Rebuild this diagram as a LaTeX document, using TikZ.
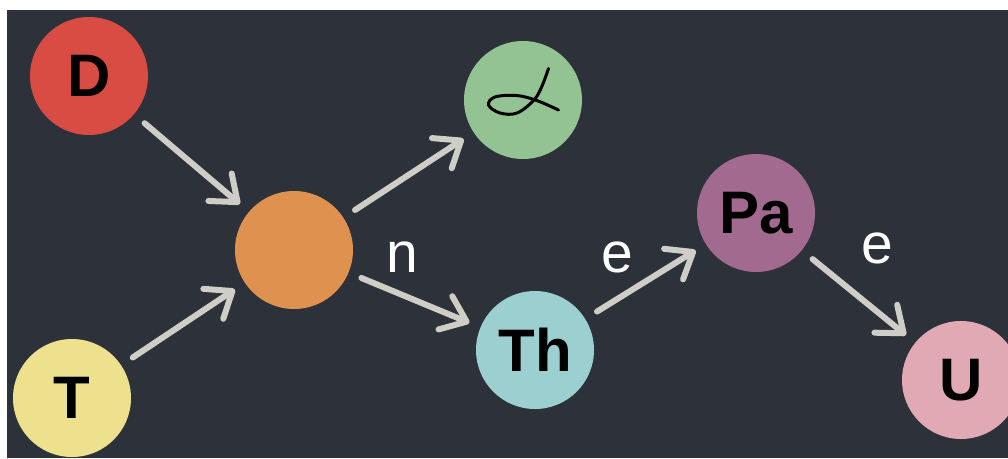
\documentclass[tikz,border=0pt]{standalone}
\usepackage{fontspec}
\setmainfont{Liberation Sans}
\usetikzlibrary{arrows.meta}
\definecolor{bgdark}{HTML}{2D3139}
\definecolor{arrowgray}{HTML}{CFCEC6}
\definecolor{cD}{HTML}{D94C43}
\definecolor{cG}{HTML}{93C393}
\definecolor{cO}{HTML}{DF9150}
\definecolor{cT}{HTML}{EDE18E}
\definecolor{cTh}{HTML}{9CCFD0}
\definecolor{cPa}{HTML}{A36A8F}
\definecolor{cU}{HTML}{E0A9B4}
\tikzset{
  ball/.style={circle, minimum size=118pt, inner sep=0pt, outer sep=0pt, draw=none,
    font=\fontsize{60}{60}\selectfont\bfseries, text=black},
  conn/.style={draw=arrowgray, line width=6pt, line cap=round,
    -{Straight Barb[length=23pt,width=36pt,round]},
    shorten <=14pt, shorten >=12pt},
  lbl/.style={text=white, font=\fontsize{57}{57}\selectfont, anchor=base, inner sep=0pt}
}
\begin{document}
\begin{tikzpicture}[x=1pt,y=-1pt]
\useasboundingbox (0,0) rectangle (1008,458);
\fill[white] (0,0) rectangle (1008,458);
\fill[bgdark] (7,10) rectangle (1008,458);
\node[ball, fill=cD] (D) at (89,76) {D};
\node[ball, fill=cG] (G) at (523,100) {};
\node[ball, fill=cO] (O) at (294,250) {};
\node[ball, fill=cT] (T) at (72,398) {T};
\node[ball, fill=cTh] (Th) at (535,350) {Th};
\node[ball, fill=cPa] (Pa) at (756,213) {Pa};
\node[ball, fill=cU] (U) at (961,380) {U};
% loop glyph in the green node
\draw[black, line width=3pt, line cap=round, line join=round]
  plot[smooth, tension=0.6] coordinates {(548.5,68.5) (542,86) (534,100) (517,113) (500,113) (488.5,105) (495,97) (516.7,95.5) (536.7,100.5) (558.5,110)};
\draw[conn] (D) -- (O);
\draw[conn] (T) -- (O);
\draw[conn] (O) -- (G);
\draw[conn] (O) -- (Th);
\draw[conn] (Th) -- (Pa);
\draw[conn] (Pa) -- (U);
\node[lbl] (ln) at (402,272) {n};
\node[lbl] (le1) at (617,272) {e};
\node[lbl] (le2) at (877,263) {e};
\end{tikzpicture}
\end{document}
